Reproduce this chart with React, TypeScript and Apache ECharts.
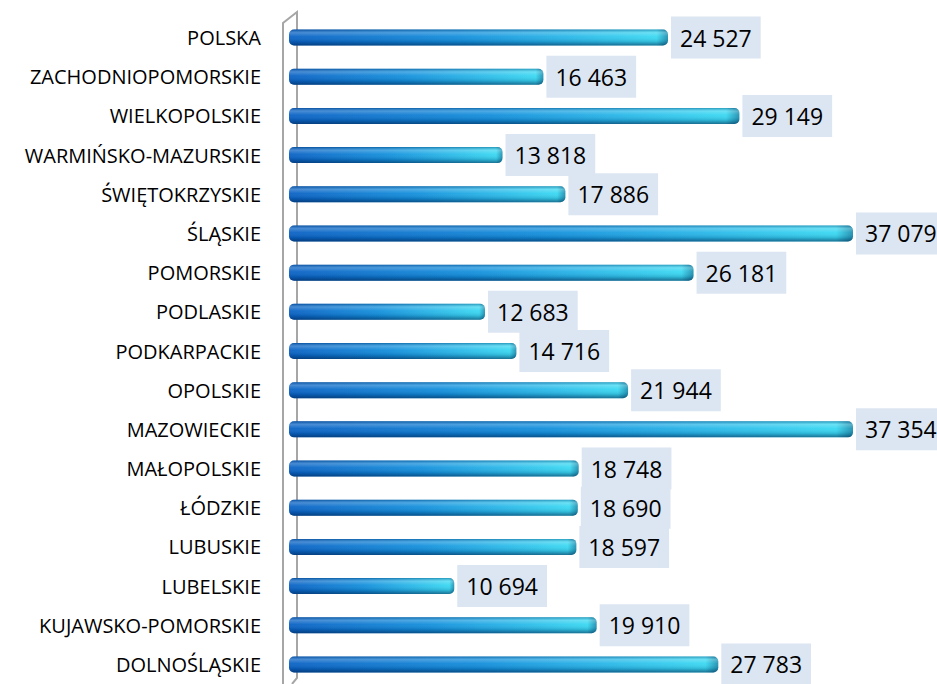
import React, { useEffect, useRef } from "react";
import * as echarts from "echarts";

const categories = [
  "DOLNOŚLĄSKIE",
  "KUJAWSKO-POMORSKIE",
  "LUBELSKIE",
  "LUBUSKIE",
  "ŁÓDZKIE",
  "MAŁOPOLSKIE",
  "MAZOWIECKIE",
  "OPOLSKIE",
  "PODKARPACKIE",
  "PODLASKIE",
  "POMORSKIE",
  "ŚLĄSKIE",
  "ŚWIĘTOKRZYSKIE",
  "WARMIŃSKO-MAZURSKIE",
  "WIELKOPOLSKIE",
  "ZACHODNIOPOMORSKIE",
  "POLSKA",
];

const values = [
  27783, 19910, 10694, 18597, 18690, 18748, 37354, 21944, 14716, 12683, 26181,
  37079, 17886, 13818, 29149, 16463, 24527,
];

const fmt = (v: number) => String(v).replace(/\B(?=(\d{3})+(?!\d))/g, " ");

export default function App() {
  const ref = useRef<HTMLDivElement>(null);
  useEffect(() => {
    if (!ref.current) return;
    const chart = echarts.init(ref.current, undefined, { renderer: "svg" });
    const gray = "#a6a6a6";
    chart.setOption({
      animation: false,
      grid: { left: 289, right: 84, top: 18, bottom: -3, containLabel: false },
      xAxis: {
        type: "value",
        min: 0,
        max: 36500,
        show: false,
      },
      yAxis: {
        type: "category",
        data: categories,
        axisLine: { show: false },
        axisTick: { show: false },
        axisLabel: {
          margin: 28,
          fontSize: 20,
          color: "#000",
          fontFamily: "Open Sans",
        },
      },
      graphic: [
        {
          type: "polyline",
          shape: { points: [[283, 684], [283, 23], [297, 12], [297, 678], [292, 684]] },
          style: { stroke: gray, lineWidth: 2, fill: "none" },
          z: 0,
        },
      ],
      series: [
        {
          type: "bar",
          data: values,
          barWidth: 16,
          clip: true,
          itemStyle: {
            borderRadius: 5,
            color: new echarts.graphic.LinearGradient(0, 0, 1, 0, [
              { offset: 0, color: "#0a62c4" },
              { offset: 0.45, color: "#138fdc" },
              { offset: 0.97, color: "#3ad8f2" },
              { offset: 1, color: "#1f8fb0" },
            ]),
          },
          z: 2,
        },
        {
          type: "bar",
          data: values,
          barWidth: 16,
          barGap: "-100%",
          clip: true,
          itemStyle: {
            borderRadius: 5,
            color: new echarts.graphic.LinearGradient(0, 0, 0, 1, [
              { offset: 0, color: "rgba(0,40,90,0.35)" },
              { offset: 0.2, color: "rgba(255,255,255,0.25)" },
              { offset: 0.45, color: "rgba(255,255,255,0.05)" },
              { offset: 0.75, color: "rgba(0,30,70,0.15)" },
              { offset: 1, color: "rgba(0,30,70,0.55)" },
            ]),
          },
          label: {
            show: true,
            position: "right",
            distance: 3,
            formatter: (p: any) => fmt(p.value),
            backgroundColor: "#dce6f2",
            padding: [7, 9, 7, 9],
            lineHeight: 28,
            fontSize: 23,
            color: "#000",
            fontFamily: "Open Sans",
          },
          z: 3,
        },
      ],
    });
    return () => chart.dispose();
  }, []);
  return <div ref={ref} style={{ width: 937, height: 684, position: "absolute", left: 0, top: 0 }} />;
}
